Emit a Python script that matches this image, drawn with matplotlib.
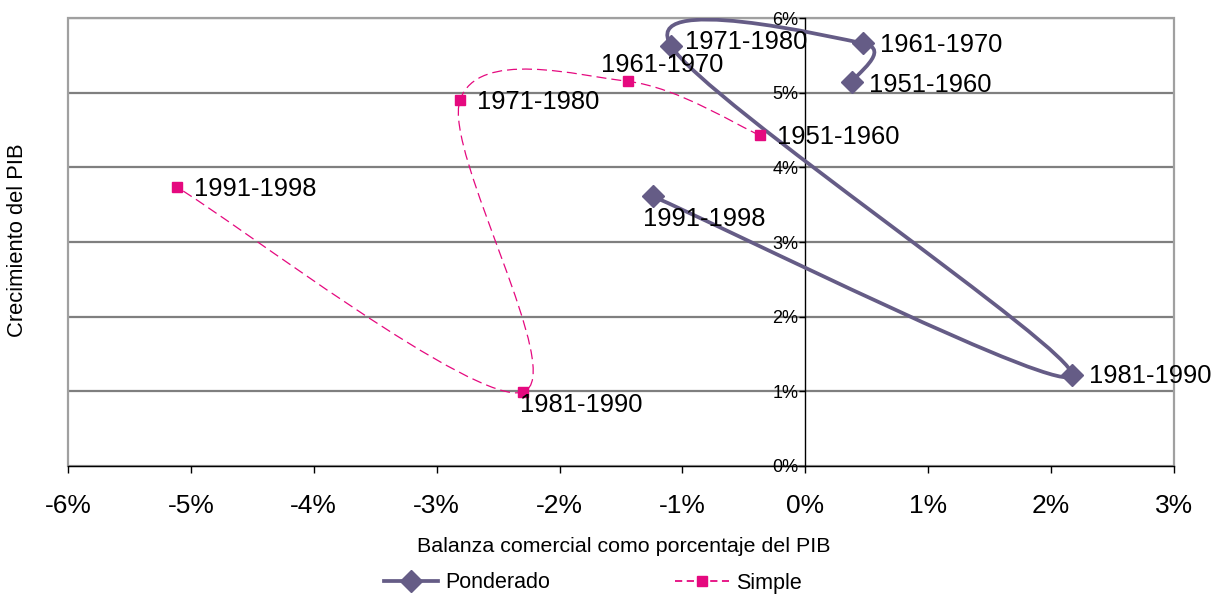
import numpy as np
import matplotlib
matplotlib.use("Agg")
import matplotlib.pyplot as plt
from matplotlib.path import Path
from matplotlib.patches import PathPatch, Rectangle
from matplotlib.lines import Line2D
from matplotlib.ticker import FuncFormatter

plt.rcParams['font.family'] = ['Liberation Sans', 'DejaVu Sans']

periods = ["1951-1960", "1961-1970", "1971-1980", "1981-1990", "1991-1998"]
# Ponderado (weighted)
pond_x = [0.38, 0.47, -1.09, 2.17, -1.24]
pond_y = [5.14, 5.66, 5.62, 1.22, 3.61]
# Simple
simp_x = [-0.37, -1.44, -2.81, -2.30, -5.11]
simp_y = [4.43, 5.15, 4.90, 0.99, 3.73]

x_ticks = [-6, -5, -4, -3, -2, -1, 0, 1, 2, 3]
y_ticks = [0, 1, 2, 3, 4, 5, 6]

c_pond = "#655C86"
c_simp = "#E5097F"


def smooth_path(xs, ys):
    """Excel-like smoothed line: Catmull-Rom segments as cubic Beziers."""
    P = np.column_stack([xs, ys]).astype(float)
    n = len(P)
    verts = [P[0]]
    codes = [Path.MOVETO]
    for i in range(n - 1):
        p0 = P[i - 1] if i > 0 else P[i]
        p1 = P[i]
        p2 = P[i + 1]
        p3 = P[i + 2] if i + 2 < n else P[i + 1]
        c1 = p1 + (p2 - p0) / 6.0
        c2 = p2 - (p3 - p1) / 6.0
        verts += [c1, c2, p2]
        codes += [Path.CURVE4] * 3
    return Path(verts, codes)


fig = plt.figure(figsize=(12.16, 5.96), dpi=100)
ax = fig.add_axes([68 / 1216, 1 - 466 / 596, (1174 - 68) / 1216, (466 - 18) / 596])

ax.set_xlim(-6, 3)
ax.set_ylim(0, 6)

# gridlines
for yv in y_ticks[1:]:
    ax.axhline(yv, color="#7F7F7F", lw=1.6, zorder=1)
# frame
ax.add_patch(Rectangle((0, 0), 1, 1, transform=ax.transAxes, fill=False,
                       edgecolor="#A0A0A0", lw=1.6, zorder=1, clip_on=False))

ax.spines['top'].set_visible(False)
ax.spines['right'].set_visible(False)
ax.spines['left'].set_position(('data', 0))
ax.spines['left'].set_color('black')
ax.spines['left'].set_linewidth(1.0)
ax.spines['bottom'].set_color('black')
ax.spines['bottom'].set_linewidth(1.0)
ax.spines['left'].set_zorder(2)

ax.set_xticks(x_ticks)
ax.set_yticks(y_ticks)
ax.xaxis.set_major_formatter(FuncFormatter(lambda v, p: f"{v:.0f}%"))
ax.yaxis.set_major_formatter(FuncFormatter(lambda v, p: f"{v:.0f}%"))
ax.tick_params(axis='x', direction='out', length=5, width=1, labelsize=19, pad=15)
ax.tick_params(axis='y', direction='out', length=4, width=1, labelsize=13, pad=1)

# smoothed lines
ax.add_patch(PathPatch(smooth_path(pond_x, pond_y), fill=False, edgecolor=c_pond,
                       lw=2.7, zorder=3, capstyle='round', joinstyle='round'))
ax.add_patch(PathPatch(smooth_path(simp_x, simp_y), fill=False, edgecolor=c_simp,
                       lw=0.9, linestyle=(0, (8, 4)), zorder=3))

ax.plot(pond_x, pond_y, ls='none', marker='D', ms=11.5, color=c_pond, zorder=4)
ax.plot(simp_x, simp_y, ls='none', marker='s', ms=7.5, color=c_simp, zorder=4)

# labels (offsets in points)
pond_off = [(12, -2), (12, -1), (10, 3), (12, -1), (-7, -16)]
simp_off = [(12, -1), (-20, 12), (12, -1), (-2, -9), (12, -1)]
for lab, x, y, off in zip(periods, pond_x, pond_y, pond_off):
    ax.annotate(lab, (x, y), xytext=off, textcoords='offset points',
                fontsize=18.4, va='center', ha='left', zorder=5)
for lab, x, y, off in zip(periods, simp_x, simp_y, simp_off):
    ax.annotate(lab, (x, y), xytext=off, textcoords='offset points',
                fontsize=18.4, va='center', ha='left', zorder=5)

fig.text(624 / 1216, 1 - 546 / 596, "Balanza comercial como porcentaje del PIB",
         ha='center', va='center', fontsize=15.4)
fig.text(18 / 1216, 1 - 240 / 596, "Crecimiento del PIB", rotation=90,
         ha='center', va='center', fontsize=15.8)

handles = [
    Line2D([], [], color=c_pond, lw=2.7, marker='D', ms=11),
    Line2D([], [], color=c_simp, lw=1.3, ls=(0, (4, 2.5)), marker='s', ms=7.5),
]
fig.legend(handles, ["Ponderado", "Simple"], loc='center',
           bbox_to_anchor=(593 / 1216, 1 - 583 / 596), ncol=2, frameon=False,
           fontsize=15.5, handlelength=2.5, columnspacing=5.8, handletextpad=0.35)

fig.savefig("out.png", dpi=100)
